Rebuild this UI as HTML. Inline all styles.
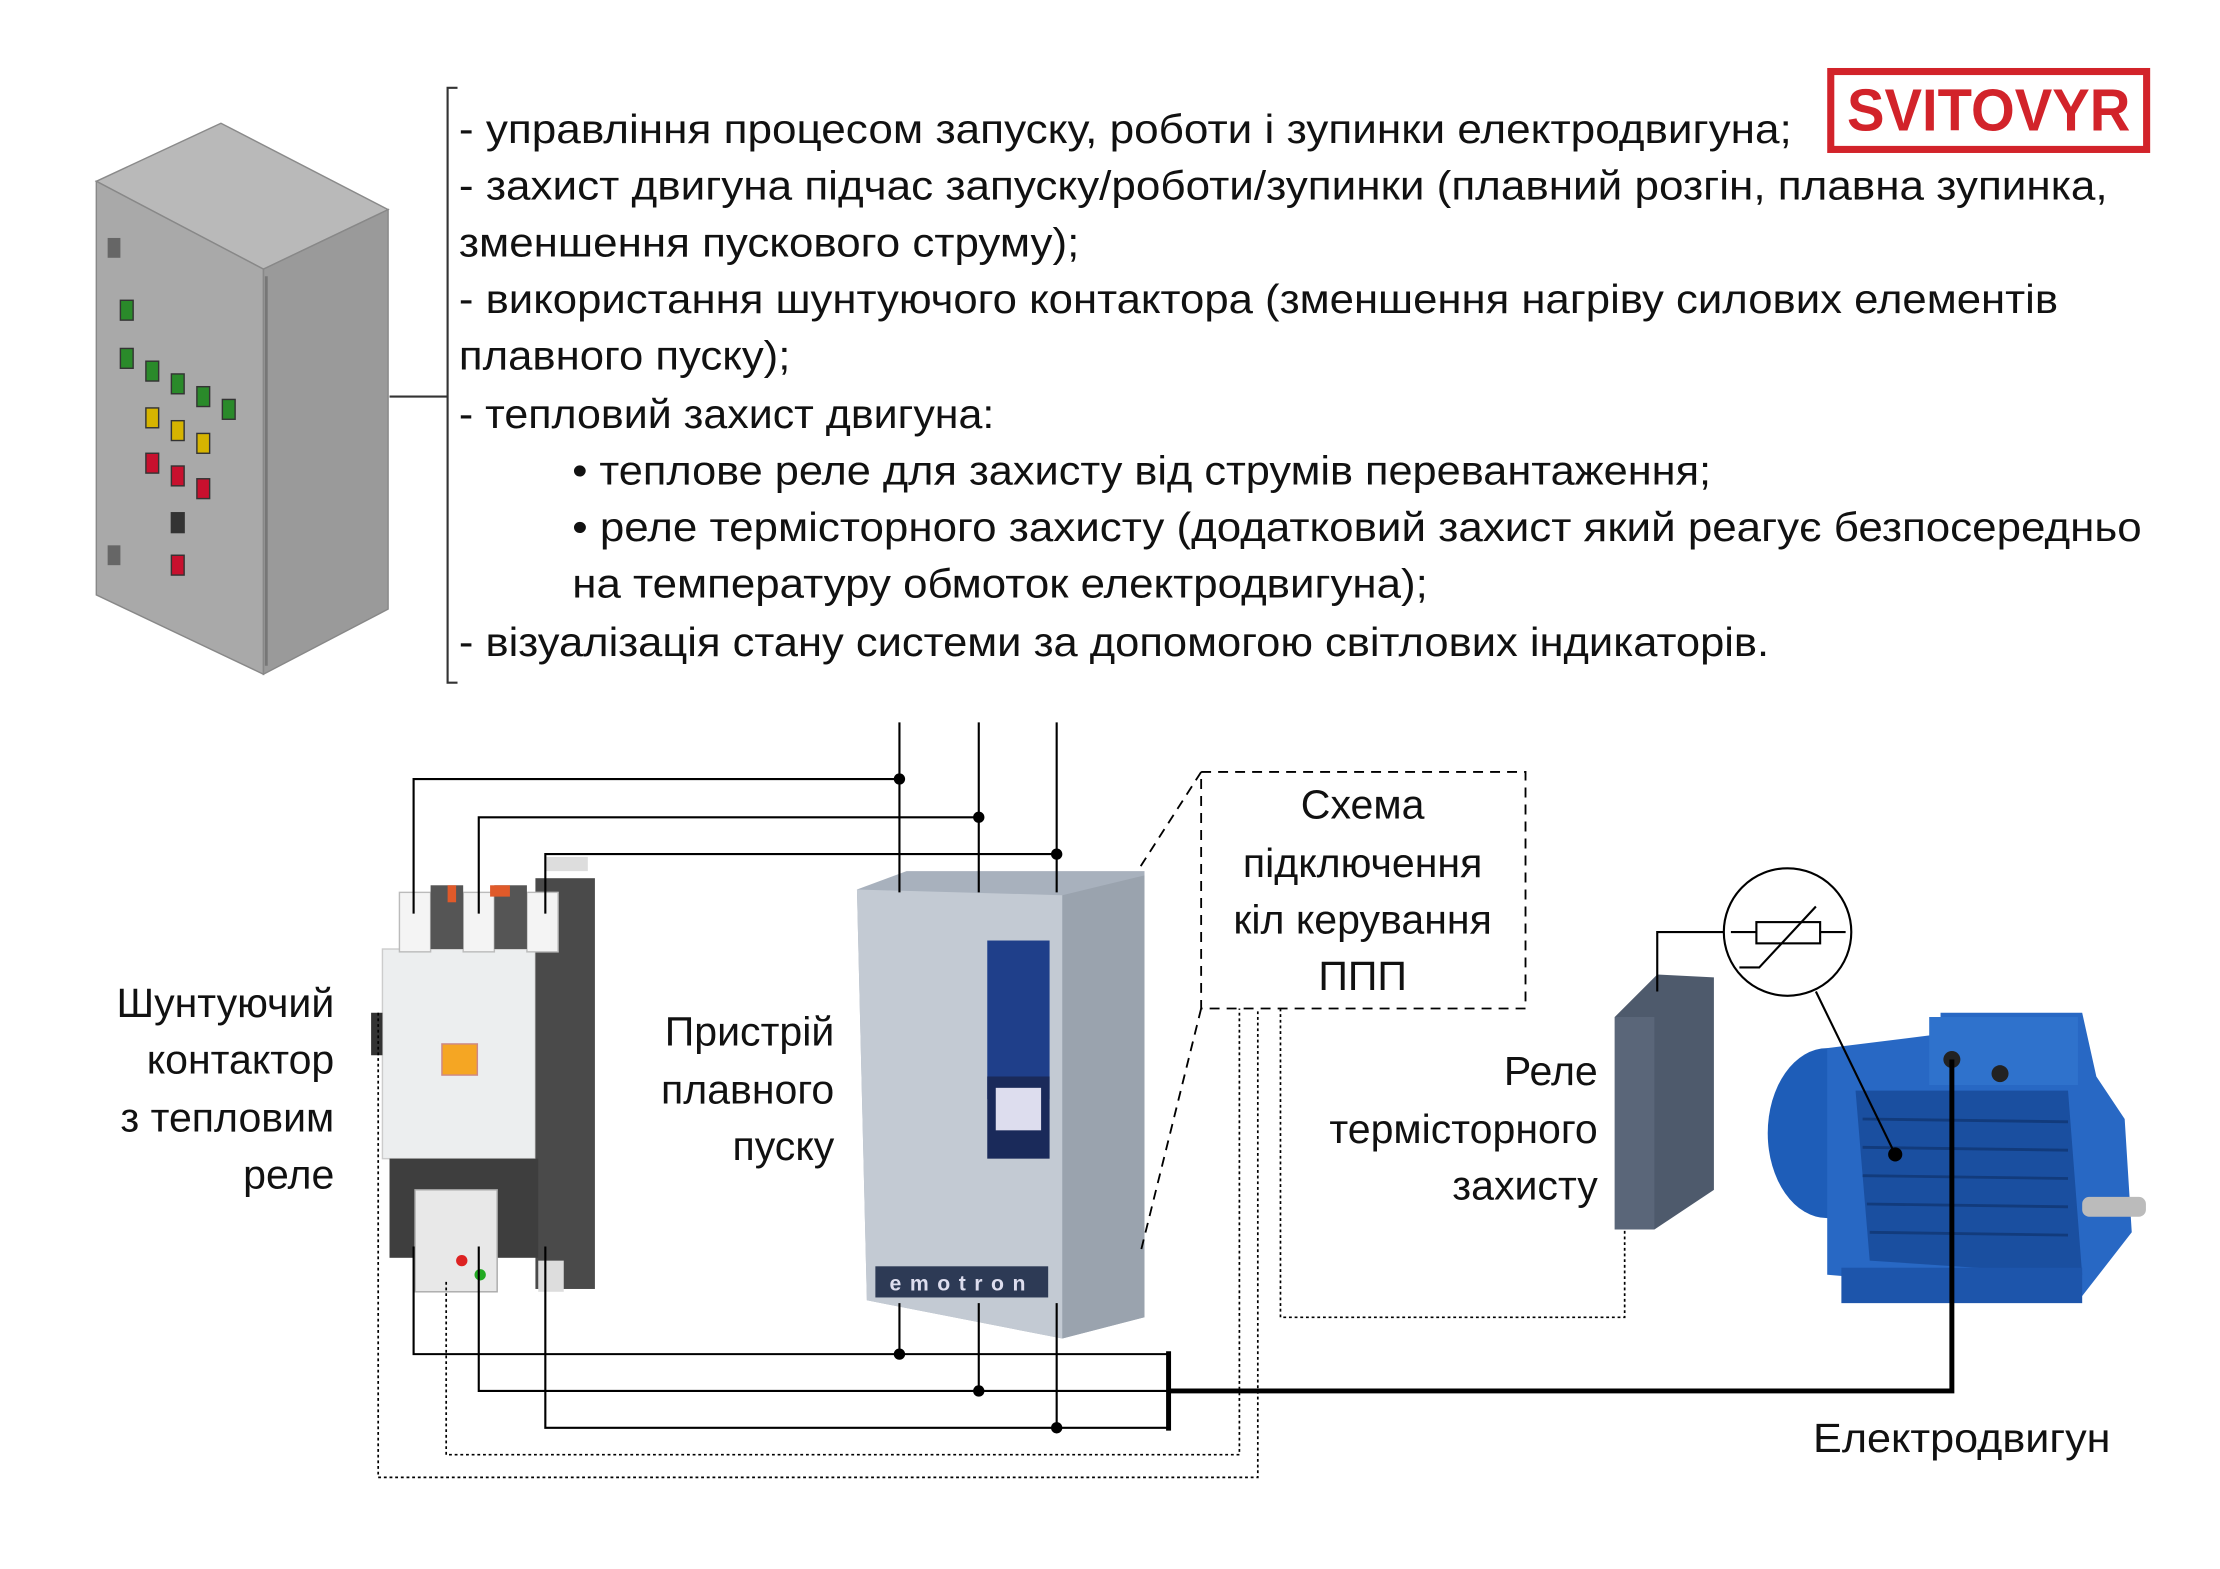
<!DOCTYPE html>
<html><head><meta charset="utf-8"><style>
html,body{margin:0;padding:0;background:#fff;}
svg{display:block;}
text{font-family:"Liberation Sans","DejaVu Sans",sans-serif;fill:#111;}
</style></head><body>
<svg width="2220" height="1569" viewBox="0 0 1567.3 1107.7" xmlns="http://www.w3.org/2000/svg">
<rect width="1570" height="1110" fill="#fff"/>
<!-- cabinet -->
<polygon points="68,128 156,87 274,148 186,190" fill="#b9b9b9" stroke="#8a8a8a"/>
<polygon points="68,128 186,190 186,476 68,420" fill="#a9a9a9" stroke="#888"/>
<polygon points="186,190 274,148 274,430 186,476" fill="#9a9a9a" stroke="#888"/>
<line x1="188" y1="195" x2="188" y2="470" stroke="#777" stroke-width="2"/>
<rect x="76" y="168" width="9" height="14" fill="#666"/>
<rect x="76" y="385" width="9" height="14" fill="#666"/>
<g stroke="#333" stroke-width="1">
<rect x="85" y="212" width="9" height="14" fill="#2a8a2a"/>
<rect x="85" y="246" width="9" height="14" fill="#2a8a2a"/>
<rect x="103" y="255" width="9" height="14" fill="#2a8a2a"/>
<rect x="121" y="264" width="9" height="14" fill="#2a8a2a"/>
<rect x="139" y="273" width="9" height="14" fill="#2a8a2a"/>
<rect x="157" y="282" width="9" height="14" fill="#2a8a2a"/>
<rect x="103" y="288" width="9" height="14" fill="#d6b400"/>
<rect x="121" y="297" width="9" height="14" fill="#d6b400"/>
<rect x="139" y="306" width="9" height="14" fill="#d6b400"/>
<rect x="103" y="320" width="9" height="14" fill="#c8102e"/>
<rect x="121" y="329" width="9" height="14" fill="#c8102e"/>
<rect x="139" y="338" width="9" height="14" fill="#c8102e"/>
<rect x="121" y="362" width="9" height="14" fill="#333"/>
<rect x="121" y="392" width="9" height="14" fill="#c8102e"/>
</g>
<!-- bracket -->
<g stroke="#333" stroke-width="1.5" fill="none">
<polyline points="323,62 316,62 316,482 323,482"/>
<line x1="275" y1="280" x2="316" y2="280"/>
</g>
<!-- logo -->
<rect x="1292.5" y="50.5" width="223" height="55" fill="#fff" stroke="#d2232a" stroke-width="5"/>
<text x="1404" y="92" text-anchor="middle" font-size="42" font-weight="bold" style="fill:#d2232a" textLength="200" lengthAdjust="spacingAndGlyphs">SVITOVYR</text>
<!-- main text -->
<g font-size="29">
<text x="324" y="101" textLength="941" lengthAdjust="spacingAndGlyphs">- управління процесом запуску, роботи і зупинки електродвигуна;</text>
<text x="324" y="141" textLength="1164" lengthAdjust="spacingAndGlyphs">- захист двигуна підчас запуску/роботи/зупинки (плавний розгін, плавна зупинка,</text>
<text x="324" y="181" textLength="438" lengthAdjust="spacingAndGlyphs">зменшення пускового струму);</text>
<text x="324" y="221" textLength="1129" lengthAdjust="spacingAndGlyphs">- використання шунтуючого контактора (зменшення нагріву силових елементів</text>
<text x="324" y="261" textLength="234" lengthAdjust="spacingAndGlyphs">плавного пуску);</text>
<text x="324" y="302" textLength="378" lengthAdjust="spacingAndGlyphs">- тепловий захист двигуна:</text>
<text x="404" y="342" textLength="804" lengthAdjust="spacingAndGlyphs">• теплове реле для захисту від струмів перевантаження;</text>
<text x="404" y="382" textLength="1108" lengthAdjust="spacingAndGlyphs">• реле термісторного захисту (додатковий захист який  реагує безпосередньо</text>
<text x="404" y="422" textLength="604" lengthAdjust="spacingAndGlyphs">на температуру обмоток електродвигуна);</text>
<text x="324" y="463" textLength="925" lengthAdjust="spacingAndGlyphs">- візуалізація стану системи за допомогою світлових індикаторів.</text>
</g>
<!-- contactor -->
<rect x="385" y="605" width="30" height="10" fill="#ddd"/>
<rect x="270" y="670" width="108" height="148" fill="#eceeef" stroke="#ccc"/>
<rect x="378" y="620" width="42" height="290" fill="#4a4a4a"/>
<rect x="275" y="818" width="105" height="70" fill="#3e3e3e"/>
<rect x="282" y="630" width="22" height="42" fill="#f4f4f4" stroke="#bbb"/>
<rect x="327" y="630" width="22" height="42" fill="#f4f4f4" stroke="#bbb"/>
<rect x="372" y="630" width="22" height="42" fill="#f4f4f4" stroke="#bbb"/>
<rect x="304" y="625" width="23" height="45" fill="#555"/>
<rect x="349" y="625" width="23" height="45" fill="#555"/>
<rect x="316" y="625" width="6" height="12" fill="#e05a2a"/>
<rect x="346" y="625" width="14" height="8" fill="#e05a2a"/>
<rect x="262" y="715" width="8" height="30" fill="#333"/>
<rect x="312" y="737" width="25" height="22" fill="#f5a623" stroke="#c88"/>
<rect x="293" y="840" width="58" height="72" fill="#e8e8e8" stroke="#aaa"/>
<circle cx="326" cy="890" r="4" fill="#d22"/>
<circle cx="339" cy="900" r="4" fill="#2a2"/>
<rect x="380" y="890" width="18" height="22" fill="#ddd"/>
<!-- soft starter -->
<polygon points="605,628 640,615 808,615 808,930 750,945 612,918" fill="#a8b1bd"/>
<polygon points="605,628 750,632 750,945 612,918" fill="#c3cad3"/>
<polygon points="750,632 808,618 808,930 750,945" fill="#9aa3ae"/>
<rect x="697" y="664" width="44" height="112" fill="#1f3f8a"/>
<rect x="697" y="760" width="44" height="58" fill="#1a2a5a"/>
<rect x="703" y="768" width="32" height="30" fill="#dde"/>
<rect x="618" y="894" width="122" height="22" fill="#2d3a55"/>
<text x="679" y="911" text-anchor="middle" font-size="15" font-weight="bold" style="fill:#dde" letter-spacing="6">emotron</text>
<!-- relay -->
<polygon points="1140,718 1170,688 1210,690 1210,840 1168,868 1140,868" fill="#4e5a6c"/>
<rect x="1140" y="718" width="28" height="150" fill="#5a6679"/>
<!-- motor -->
<ellipse cx="1290" cy="800" rx="42" ry="60" fill="#1e5db8"/>
<path d="M1290,740 L1370,730 L1370,715 L1470,715 L1480,760 L1500,790 L1505,870 L1470,915 L1290,900 Z" fill="#2868c4"/>
<path d="M1310,770 L1460,770 L1470,900 L1320,890 Z" fill="#1a4fa0"/>
<g stroke="#123b7c" stroke-width="2">
<line x1="1315" y1="790" x2="1460" y2="792"/><line x1="1315" y1="810" x2="1460" y2="812"/>
<line x1="1315" y1="830" x2="1460" y2="832"/><line x1="1318" y1="850" x2="1460" y2="852"/>
<line x1="1320" y1="870" x2="1460" y2="872"/>
</g>
<rect x="1362" y="718" width="105" height="48" fill="#2f72cc"/>
<circle cx="1378" cy="748" r="6" fill="#222"/><circle cx="1412" cy="758" r="6" fill="#222"/>
<rect x="1470" y="845" width="45" height="14" fill="#bbb" rx="5"/>
<rect x="1300" y="895" width="170" height="25" fill="#1d55ab"/>
<!-- connectors -->
<g stroke="#000" stroke-width="1.5" fill="none">
<line x1="635" y1="510" x2="635" y2="630"/>
<line x1="691" y1="510" x2="691" y2="630"/>
<line x1="746" y1="510" x2="746" y2="630"/>
<polyline points="292,645 292,550 635,550"/>
<polyline points="338,645 338,577 691,577"/>
<polyline points="385,645 385,603 746,603"/>
<polyline points="292,880 292,956 825,956"/>
<polyline points="338,880 338,982 825,982"/>
<polyline points="385,880 385,1008 825,1008"/>
<line x1="635" y1="920" x2="635" y2="956"/>
<line x1="691" y1="920" x2="691" y2="982"/>
<line x1="746" y1="920" x2="746" y2="1008"/>
<polyline points="1170,700 1170,658 1218,658"/>
<line x1="1282" y1="700" x2="1338" y2="815"/>
</g>
<g fill="#000">
<circle cx="635" cy="550" r="4"/><circle cx="691" cy="577" r="4"/><circle cx="746" cy="603" r="4"/>
<circle cx="635" cy="956" r="4"/><circle cx="691" cy="982" r="4"/><circle cx="746" cy="1008" r="4"/>
<circle cx="1338" cy="815" r="5"/>
</g>
<g stroke="#000" stroke-width="3.5" fill="none">
<line x1="825" y1="954" x2="825" y2="1010"/>
<polyline points="825,982 1378,982 1378,748"/>
</g>
<g stroke="#000" stroke-width="1.2" stroke-dasharray="2,2" fill="none">
<polyline points="267,715 267,1043 888,1043 888,712"/>
<polyline points="315,905 315,1027 875,1027 875,712"/>
<polyline points="904,712 904,930 1147,930 1147,868"/>
</g>
<g stroke="#000" stroke-width="1.3" stroke-dasharray="7,5" fill="none">
<rect x="848" y="545" width="229" height="167"/>
<line x1="848" y1="545" x2="805" y2="612"/>
<line x1="848" y1="712" x2="805" y2="885"/>
</g>
<!-- thermistor -->
<circle cx="1262" cy="658" r="45" fill="#fff" stroke="#000" stroke-width="1.5"/>
<g stroke="#000" stroke-width="1.5" fill="none">
<rect x="1240" y="651" width="45" height="15"/>
<line x1="1222" y1="658" x2="1240" y2="658"/><line x1="1285" y1="658" x2="1303" y2="658"/>
<polyline points="1228,683 1242,683 1282,640"/>
</g>
<!-- labels -->
<g font-size="29">
<g text-anchor="middle">
<text x="962" y="578">Схема</text>
<text x="962" y="619">підключення</text>
<text x="962" y="659">кіл керування</text>
<text x="962" y="699">ППП</text>
</g>
<g text-anchor="end">
<text x="236" y="718">Шунтуючий</text>
<text x="236" y="758">контактор</text>
<text x="236" y="799">з тепловим</text>
<text x="236" y="839">реле</text>
<text x="589" y="738">Пристрій</text>
<text x="589" y="779">плавного</text>
<text x="589" y="819">пуску</text>
<text x="1128" y="766">Реле</text>
<text x="1128" y="807">термісторного</text>
<text x="1128" y="847">захисту</text>
</g>
<text x="1280" y="1025" textLength="210" lengthAdjust="spacingAndGlyphs">Електродвигун</text>
</g>
</svg>
</body></html>
